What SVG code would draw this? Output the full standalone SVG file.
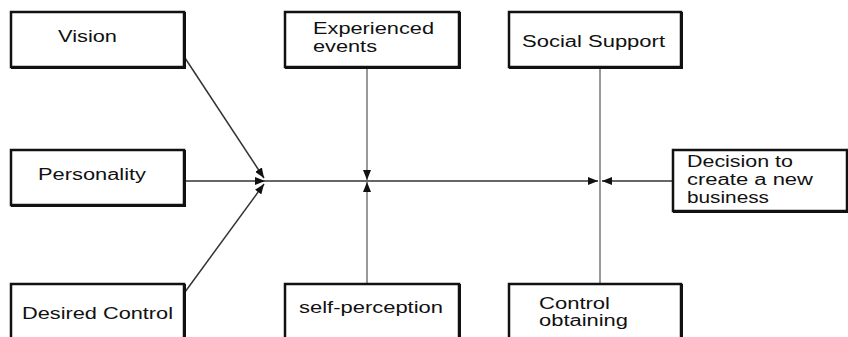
<svg xmlns="http://www.w3.org/2000/svg" width="848" height="337" viewBox="0 0 848 337">
<style>
.box{fill:#fff;stroke:#111;stroke-width:2.5}
.sh{fill:none;stroke:#111;stroke-width:2}
text{font-family:"Liberation Sans",Arial,sans-serif;font-size:16px;fill:#111}
.c{fill:none;stroke:#333;stroke-width:1.5}
.g{fill:none;stroke:#777;stroke-width:1.5}
</style>
<defs>
<marker id="ah" markerUnits="userSpaceOnUse" markerWidth="10" markerHeight="8" refX="10" refY="4" orient="auto">
<path d="M0,0 L10,4 L0,8 z" fill="#111"/>
</marker>
</defs>
<rect width="848" height="337" fill="#fff"/>
<g id="connectors">
<line class="c" x1="185" y1="58" x2="264" y2="178" marker-end="url(#ah)"/>
<line class="c" x1="185" y1="292" x2="264" y2="184" marker-end="url(#ah)"/>
<line class="c" x1="185" y1="181" x2="265" y2="181" marker-end="url(#ah)"/>
<line class="c" x1="265" y1="181" x2="598" y2="181" marker-end="url(#ah)"/>
<line class="c" x1="672" y1="181" x2="602" y2="181" marker-end="url(#ah)"/>
<line class="g" x1="367" y1="68" x2="367" y2="180" marker-end="url(#ah)"/>
<line class="g" x1="367" y1="283" x2="367" y2="182" marker-end="url(#ah)"/>
<line class="g" x1="600" y1="68" x2="600" y2="283"/>
</g>
<g id="vision">
<rect class="box" x="11" y="12" width="173" height="55"/>
<path class="sh" d="M185,12 V68 H11"/>
<text x="58" y="42" textLength="59" lengthAdjust="spacingAndGlyphs">Vision</text>
</g>
<g id="personality">
<rect class="box" x="11" y="150" width="173" height="55"/>
<path class="sh" d="M185,150 V206 H11"/>
<text x="38" y="180" textLength="108" lengthAdjust="spacingAndGlyphs">Personality</text>
</g>
<g id="desired-control">
<rect class="box" x="11" y="284" width="173" height="70"/>
<path class="sh" d="M185,284 V354"/>
<text x="22" y="319" textLength="151" lengthAdjust="spacingAndGlyphs">Desired Control</text>
</g>
<g id="experienced-events">
<rect class="box" x="285" y="12" width="174" height="55"/>
<path class="sh" d="M460,12 V68 H285"/>
<text x="313" y="34" textLength="121" lengthAdjust="spacingAndGlyphs">Experienced</text>
<text x="313" y="52" textLength="64" lengthAdjust="spacingAndGlyphs">events</text>
</g>
<g id="self-perception">
<rect class="box" x="285" y="284" width="174" height="70"/>
<path class="sh" d="M460,284 V354"/>
<text x="299" y="313" textLength="144" lengthAdjust="spacingAndGlyphs">self-perception</text>
</g>
<g id="social-support">
<rect class="box" x="509" y="12" width="172" height="55"/>
<path class="sh" d="M682,12 V68 H509"/>
<text x="522" y="47" textLength="143" lengthAdjust="spacingAndGlyphs">Social Support</text>
</g>
<g id="control-obtaining">
<rect class="box" x="509" y="284" width="172" height="70"/>
<path class="sh" d="M682,284 V354"/>
<text x="539" y="309" textLength="71" lengthAdjust="spacingAndGlyphs">Control</text>
<text x="539" y="326" textLength="89" lengthAdjust="spacingAndGlyphs">obtaining</text>
</g>
<g id="decision">
<rect class="box" x="673" y="150" width="174" height="61"/>
<path class="sh" d="M848,150 V212 H673"/>
<text x="687" y="167" textLength="106" lengthAdjust="spacingAndGlyphs">Decision to</text>
<text x="687" y="185" textLength="126" lengthAdjust="spacingAndGlyphs">create a new</text>
<text x="687" y="203" textLength="82" lengthAdjust="spacingAndGlyphs">business</text>
</g>
</svg>
